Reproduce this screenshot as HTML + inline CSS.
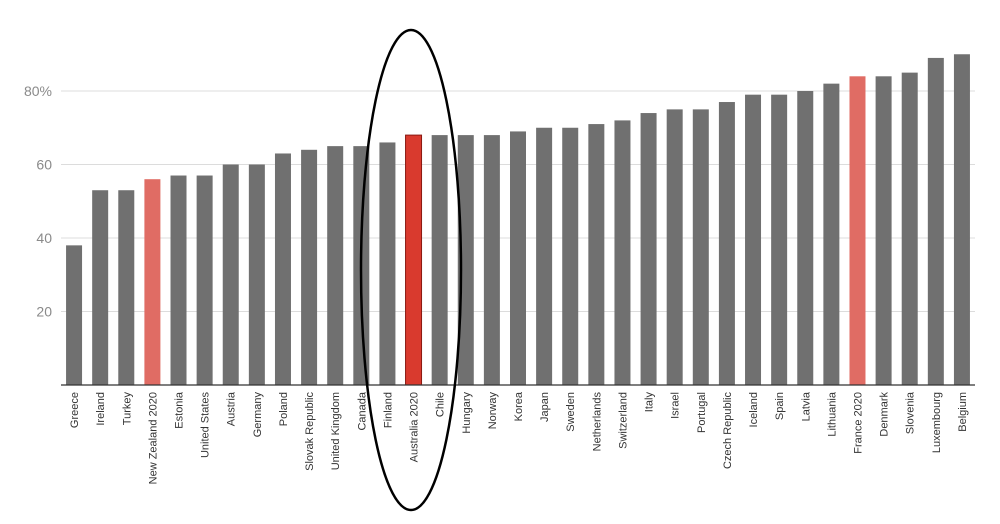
<!DOCTYPE html>
<html><head><meta charset="utf-8"><style>
body{margin:0;background:#fff;}
svg{display:block;font-family:"Liberation Sans",sans-serif;}
</style></head><body>
<svg id="chart" width="1000" height="524"></svg>
<script>
const categories=["Greece","Ireland","Turkey","New Zealand 2020","Estonia","United States","Austria","Germany","Poland","Slovak Republic","United Kingdom","Canada","Finland","Australia 2020","Chile","Hungary","Norway","Korea","Japan","Sweden","Netherlands","Switzerland","Italy","Israel","Portugal","Czech Republic","Iceland","Spain","Latvia","Lithuania","France 2020","Denmark","Slovenia","Luxembourg","Belgium"];
const values=[38,53,53,56,57,57,60,60,63,64,65,65,66,68,68,68,68,69,70,70,71,72,74,75,75,77,79,79,80,82,84,84,85,89,90];
const highlights=["","","","light","","","","","","","","","","dark","","","","","","","","","","","","","","","","","light","","","",""];
const yTicks=[20,40,60,80];
const yTickLabels=["20","40","60","80%"];
const NS="http://www.w3.org/2000/svg";
const svg=document.getElementById('chart');
const x0=61,x1=975,yBase=385,pxPerUnit=3.675;
const band=(x1-x0)/categories.length;
const xc=i=>x0+band*(i+0.5);
const y=v=>yBase-v*pxPerUnit;
function mk(t,a){const e=document.createElementNS(NS,t);for(const k in a)e.setAttribute(k,a[k]);svg.appendChild(e);return e;}
yTicks.forEach((t,i)=>{
 const g=mk('line',{x1:x0,x2:x1,y1:y(t),y2:y(t),stroke:'#dcdcdc','stroke-width':1});
 
 
 const l=mk('text',{x:52,y:y(t)+5,'text-anchor':'end','font-size':14,fill:'#8a8a8a'});
 l.textContent=yTickLabels[i];
 
 
});
const colors={"":"#707070",light:"#e06c64",dark:"#d93a2e"};
categories.forEach((c,i)=>{
 const r=mk('rect',{x:xc(i)-8,y:y(values[i]),width:16,height:values[i]*pxPerUnit,fill:colors[highlights[i]]});
 if(highlights[i]==='dark'){r.setAttribute('stroke','#8a1a12');r.setAttribute('stroke-width','1');}
 
 
 const t=mk('text',{transform:`translate(${xc(i)+4},392) rotate(-90)`,'text-anchor':'end','font-size':11,fill:'#333'});
 t.textContent=c;
 
 
});
const ax=mk('line',{x1:x0,x2:x1,y1:yBase,y2:yBase,stroke:'#333','stroke-width':1.2});


const el=mk('ellipse',{cx:411,cy:270,rx:50,ry:240,fill:'none',stroke:'#000','stroke-width':2.5});


</script>
</body></html>
